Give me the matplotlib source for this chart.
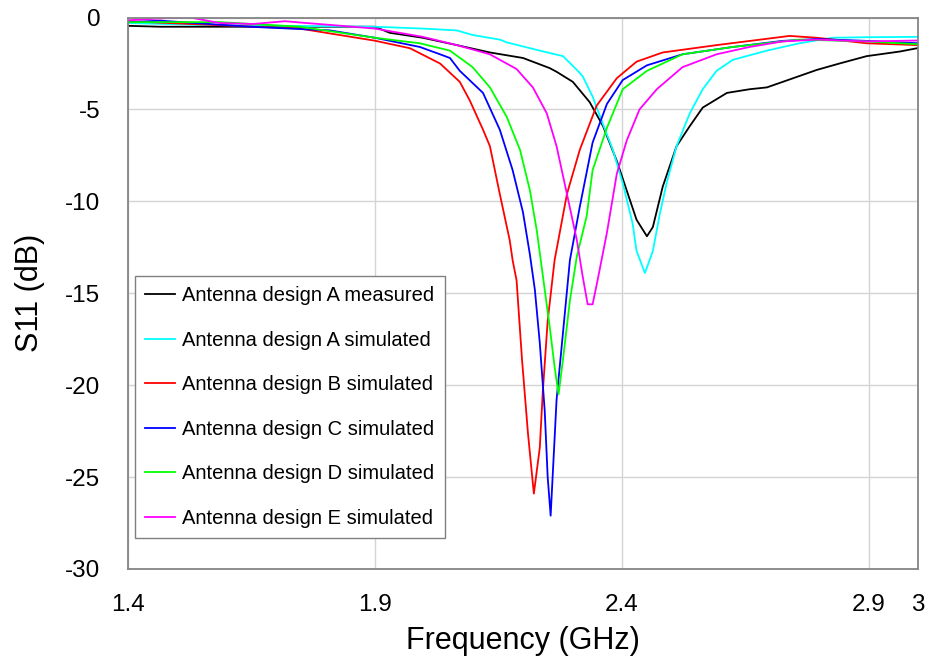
import matplotlib
matplotlib.use("Agg")
import matplotlib.pyplot as plt

plt.rcParams['font.family'] = ['Liberation Sans', 'DejaVu Sans']
plt.rcParams['axes.unicode_minus'] = False

# frequency (GHz) / S11 (dB)
freq_a_meas = [1.400, 1.465, 1.647, 1.809, 1.900, 1.930, 1.997, 2.066, 2.133, 2.200, 2.254,
               2.268, 2.301, 2.335, 2.362, 2.390, 2.410, 2.430, 2.451, 2.463, 2.483, 2.511,
               2.538, 2.564, 2.613, 2.659, 2.694, 2.726, 2.795, 2.841, 2.896, 2.963, 3.000]
s11_a_meas = [-0.45, -0.5, -0.5, -0.5, -0.5, -0.83, -1.1, -1.5, -1.9, -2.2, -2.75,
              -2.95, -3.5, -4.6, -5.9, -7.8, -9.4, -11.0, -11.9, -11.4, -9.2, -7.0,
              -5.9, -4.9, -4.1, -3.9, -3.8, -3.5, -2.85, -2.5, -2.1, -1.85, -1.66]

freq_a_sim = [1.400, 1.546, 1.748, 1.900, 1.997, 2.066, 2.098, 2.153, 2.167, 2.234, 2.281,
              2.311, 2.321, 2.341, 2.362, 2.382, 2.402, 2.422, 2.430, 2.447, 2.463, 2.477,
              2.491, 2.511, 2.538, 2.564, 2.592, 2.625, 2.694, 2.760, 2.827, 2.896, 3.000]
s11_a_sim = [-0.3, -0.4, -0.46, -0.5, -0.6, -0.7, -0.95, -1.2, -1.35, -1.8, -2.1,
             -2.9, -3.2, -4.3, -5.8, -7.2, -9.0, -11.2, -12.7, -13.9, -12.7, -10.7,
             -9.0, -7.0, -5.2, -3.9, -2.9, -2.3, -1.8, -1.4, -1.1, -1.07, -1.05]

freq_b = [1.400, 1.526, 1.748, 1.900, 1.971, 2.032, 2.072, 2.092, 2.119, 2.133, 2.153,
          2.173, 2.179, 2.187, 2.198, 2.210, 2.222, 2.234, 2.240, 2.250, 2.264, 2.289,
          2.315, 2.349, 2.390, 2.430, 2.483, 2.592, 2.740, 2.795, 2.896, 3.000]
s11_b = [-0.2, -0.35, -0.6, -1.26, -1.67, -2.5, -3.5, -4.5, -6.1, -7.0, -9.6,
         -12.1, -13.2, -14.3, -18.6, -22.6, -25.9, -23.4, -20.4, -16.5, -13.2, -9.6,
         -7.2, -4.8, -3.3, -2.4, -1.9, -1.5, -1.0, -1.1, -1.4, -1.5]

freq_c = [1.400, 1.465, 1.647, 1.809, 1.900, 1.991, 2.032, 2.052, 2.072, 2.119, 2.153,
          2.179, 2.200, 2.214, 2.224, 2.234, 2.244, 2.250, 2.256, 2.260, 2.268, 2.279,
          2.295, 2.315, 2.341, 2.370, 2.402, 2.451, 2.523, 2.625, 2.726, 2.795, 2.896, 3.000]
s11_c = [-0.25, -0.17, -0.5, -0.7, -1.1, -1.6, -2.0, -2.2, -2.9, -4.1, -6.1,
         -8.3, -10.6, -12.9, -14.8, -17.7, -21.4, -25.0, -27.1, -25.0, -20.8, -17.7,
         -13.2, -10.3, -6.8, -4.7, -3.4, -2.6, -2.0, -1.6, -1.27, -1.17, -1.27, -1.4]

freq_d = [1.400, 1.586, 1.748, 1.900, 1.991, 2.052, 2.098, 2.133, 2.167, 2.194, 2.214,
          2.228, 2.236, 2.254, 2.264, 2.272, 2.281, 2.295, 2.309, 2.329, 2.341, 2.370,
          2.402, 2.451, 2.523, 2.625, 2.760, 2.896, 3.000]
s11_d = [-0.25, -0.25, -0.5, -1.1, -1.4, -1.8, -2.7, -3.8, -5.4, -7.2, -9.4,
         -11.6, -13.2, -16.8, -19.0, -20.5, -18.6, -15.4, -13.0, -10.8, -8.3, -6.0,
         -3.9, -2.9, -2.0, -1.6, -1.2, -1.3, -1.45]

freq_e = [1.400, 1.499, 1.526, 1.586, 1.653, 1.718, 1.762, 1.809, 1.900, 1.997, 2.066,
          2.133, 2.187, 2.220, 2.248, 2.268, 2.289, 2.309, 2.321, 2.331, 2.341, 2.351,
          2.370, 2.390, 2.410, 2.436, 2.471, 2.523, 2.592, 2.659, 2.726, 2.795, 2.896, 3.000]
s11_e = [-0.15, 0.0, 0.0, -0.3, -0.35, -0.2, -0.3, -0.4, -0.6, -1.05, -1.5,
         -2.0, -2.8, -3.8, -5.2, -7.0, -9.6, -12.1, -14.1, -15.6, -15.6, -14.3,
         -11.7, -8.5, -6.7, -5.0, -3.9, -2.7, -2.0, -1.6, -1.3, -1.2, -1.3, -1.25]

labels = ['Antenna design A measured', 'Antenna design A simulated',
          'Antenna design B simulated', 'Antenna design C simulated',
          'Antenna design D simulated', 'Antenna design E simulated']
colors = ['#000000', '#00FFFF', '#FF0000', '#0000FF', '#00FF00', '#FF00FF']
series = [(freq_a_meas, s11_a_meas), (freq_a_sim, s11_a_sim), (freq_b, s11_b),
          (freq_c, s11_c), (freq_d, s11_d), (freq_e, s11_e)]

xticks = [1.4, 1.9, 2.4, 2.9, 3.0]
xticklabels = ['1.4', '1.9', '2.4', '2.9', '3']
yticks = [0, -5, -10, -15, -20, -25, -30]

fig = plt.figure(figsize=(9.25, 6.62), dpi=100)
ax = fig.add_axes([0.1384, 0.1405, 0.854, 0.833])

for (f, s), lab, c in zip(series, labels, colors):
    ax.plot(f, s, color=c, lw=1.3, label=lab)

ax.set_xlim(1.4, 3.0)
ax.set_ylim(-30, 0)
ax.set_xticks(xticks)
ax.set_xticklabels(xticklabels)
ax.set_yticks(yticks)
ax.tick_params(axis='both', length=0, labelsize=17.5)
ax.tick_params(axis='x', pad=18)
ax.tick_params(axis='y', pad=20)

ax.grid(True, color='#d4d4d4', lw=1.0)
ax.set_axisbelow(True)
for sp in ax.spines.values():
    sp.set_color('#858585')
    sp.set_linewidth(1.3)

ax.set_xlabel('Frequency (GHz)', fontsize=22)
ax.set_ylabel('S11 (dB)', fontsize=22)
ax.xaxis.set_label_coords(0.5, -0.103)
ax.yaxis.set_label_coords(-0.105, 0.5)

leg = ax.legend(loc='lower left', bbox_to_anchor=(0.009, 0.056), borderaxespad=0,
                fontsize=14.5, labelspacing=1.27, handlelength=1.5, handletextpad=0.35,
                borderpad=0.5, fancybox=False, framealpha=1)
leg.get_frame().set_edgecolor('#808080')
leg.get_frame().set_linewidth(1.0)

fig.savefig('out.png', dpi=100)
